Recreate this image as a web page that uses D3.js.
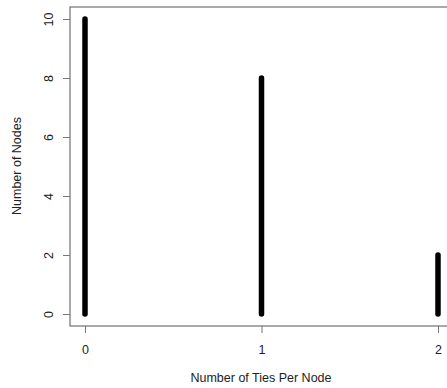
<!DOCTYPE html>
<html>
<head>
<meta charset="utf-8">
<script src="https://cdn.jsdelivr.net/npm/d3@7"></script>
<style>
  body { margin: 0; background: #fff; }
  text { font-family: "Liberation Sans", Arial, sans-serif; fill: #222; }
</style>
</head>
<body>
<script>
const ties = [0, 1, 2];
const nodeCounts = [10, 8, 2];
const xTicks = [0, 1, 2];
const yTicks = [0, 2, 4, 6, 8, 10];

const W = 447, H = 388;
const box = { left: 70, top: 7, right: 470, bottom: 326 };

const svg = d3.select("body").append("svg").attr("width", W).attr("height", H);

const x = d3.scaleLinear().domain([0, 2]).range([85, 438]);
const y = d3.scaleLinear().domain([0, 10]).range([314, 19]);

// plot frame
svg.append("rect")
    .attr("x", box.left).attr("y", box.top)
    .attr("width", box.right - box.left).attr("height", box.bottom - box.top)
    .attr("fill", "none").attr("stroke", "#555").attr("stroke-width", 1);

// x axis ticks
const xAxis = d3.axisBottom(x).tickValues(xTicks).tickSize(7).tickPadding(12).tickFormat(d3.format("d"));
const gx = svg.append("g").attr("transform", `translate(0,${box.bottom})`).call(xAxis);
gx.select(".domain").remove();
gx.selectAll("line").attr("stroke", "#777");
gx.selectAll("text").attr("font-size", 12.5).style("font-family", "Liberation Sans, Arial, sans-serif").attr("fill", "#222");

// y axis ticks (rotated labels like R)
const yAxis = d3.axisLeft(y).tickValues(yTicks).tickSize(7).tickFormat(d3.format("d"));
const gy = svg.append("g").attr("transform", `translate(${box.left},0)`).call(yAxis);
gy.select(".domain").remove();
gy.selectAll("line").attr("stroke", "#777");
gy.selectAll("text")
    .attr("x", null).attr("dy", null)
    .attr("text-anchor", "middle")
    .attr("transform", "translate(-21,0) rotate(-90)")
    .attr("dy", "0.35em")
    .attr("font-size", 12.5).style("font-family", "Liberation Sans, Arial, sans-serif").attr("fill", "#222");

// histogram-like vertical lines
svg.selectAll("line.spike")
    .data(ties.map((t, i) => ({ t, n: nodeCounts[i] })))
    .enter().append("line")
    .attr("class", "spike")
    .attr("x1", d => x(d.t)).attr("x2", d => x(d.t))
    .attr("y1", y(0)).attr("y2", d => y(d.n))
    .attr("stroke", "#000").attr("stroke-width", 5.5).attr("stroke-linecap", "round");

// axis titles
svg.append("text")
    .attr("x", 261).attr("y", 382)
    .attr("text-anchor", "middle").attr("font-size", 12.5)
    .text("Number of Ties Per Node");

svg.append("text")
    .attr("transform", "translate(21,166) rotate(-90)")
    .attr("text-anchor", "middle").attr("font-size", 12.5)
    .text("Number of Nodes");
</script>
</body>
</html>
